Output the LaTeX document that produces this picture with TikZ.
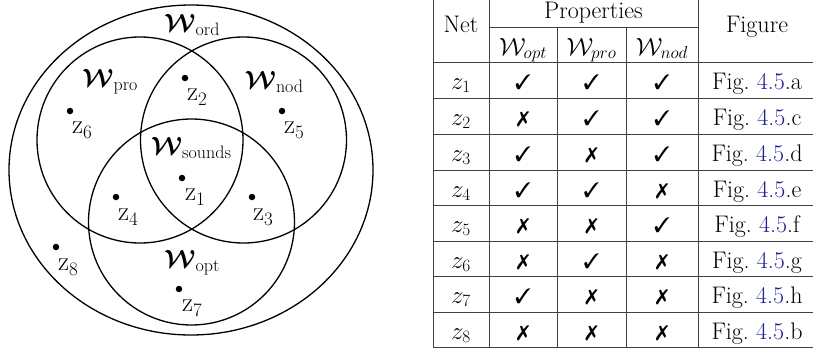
\documentclass[tikz,border=0pt]{standalone}
\usepackage{amsmath,amssymb,bm,pifont}
\usetikzlibrary{shapes.geometric}
\definecolor{linkblue}{RGB}{30,30,150}
\newcommand{\ck}{\ding{51}}
\newcommand{\xx}{\ding{55}}
\newcommand{\fg}[1]{Fig.~\textcolor{linkblue}{4.5}.#1}
\newcommand{\wl}[1]{{\fontsize{25}{28}\selectfont$\boldsymbol{\mathcal{W}}$}\raisebox{-4pt}{\fontsize{18}{20}\selectfont #1}}
\newcommand{\zl}[1]{{\fontsize{27}{30}\selectfont z}\raisebox{-5pt}{\fontsize{19}{20}\selectfont #1}}
\begin{document}
\begin{tikzpicture}[x=1pt,y=-1pt,
  venn/.style={draw,line width=1.3pt,inner sep=0pt,outer sep=0pt},
  dotpt/.style={circle,fill,inner sep=0pt,minimum size=6.5pt},
  vlab/.style={inner sep=0pt},
  tline/.style={line width=0.8pt,draw=black!75},
  tx/.style={font=\fontsize{24}{28}\selectfont,inner sep=0pt,anchor=base},
  mk/.style={font=\fontsize{21}{26}\selectfont,inner sep=0pt,anchor=base}]
\useasboundingbox (0,0) rectangle (813,351);
% Venn diagram
\node[venn,ellipse,minimum width=364pt,minimum height=330pt] (ord) at (191,170) {};
\node[venn,circle,minimum size=206pt] (pro) at (140,140) {};
\node[venn,circle,minimum size=206pt] (nod) at (243.5,140) {};
\node[venn,circle,minimum size=206pt] (opt) at (191.5,222) {};
\node[vlab] (word) at (192,25) {\wl{ord}};
\node[vlab] (wpro) at (110,82) {\wl{pro}};
\node[vlab] (wnod) at (274,82) {\wl{nod}};
\node[vlab] (wsnd) at (191,148) {\wl{sounds}};
\node[vlab] (wopt) at (192,263) {\wl{opt}};
\node[dotpt] (d1) at (182,178) {}; \node[vlab] (l1) at (195,197) {\zl{1}};
\node[dotpt] (d2) at (185,78) {};  \node[vlab] (l2) at (197,97) {\zl{2}};
\node[dotpt] (d3) at (252,197) {}; \node[vlab] (l3) at (263,217) {\zl{3}};
\node[dotpt] (d4) at (116,197) {}; \node[vlab] (l4) at (128,217) {\zl{4}};
\node[dotpt] (d5) at (282,111) {}; \node[vlab] (l5) at (294,130) {\zl{5}};
\node[dotpt] (d6) at (70,111) {};  \node[vlab] (l6) at (82,130) {\zl{6}};
\node[dotpt] (d7) at (179,289) {}; \node[vlab] (l7) at (192,308) {\zl{7}};
\node[dotpt] (d8) at (56,247) {};  \node[vlab] (l8) at (68,267) {\zl{8}};
% Table lines
\draw[tline] (433,0) -- (433,347);
\draw[tline] (489,0) -- (489,347);
\draw[tline] (557,27) -- (557,347);
\draw[tline] (626,27) -- (626,347);
\draw[tline] (698,0) -- (698,347);
\draw[tline] (489,27) -- (698,27);
\foreach \yy in {62,98,134,170,205,241,276,312,347} \draw[tline] (433,\yy) -- (813,\yy);
% Header
\node[tx] (hnet) at (461,32) {Net};
\node[tx] (hprop) at (593.5,18.5) {Properties};
\node[tx] (hfig) at (757,32) {Figure};
\node[tx] (hopt) at (523,55) {$\mathcal{W}_{opt}$};
\node[tx] (hpro) at (591.5,55) {$\mathcal{W}_{pro}$};
\node[tx] (hnod) at (662,55) {$\mathcal{W}_{nod}$};
% Rows
\foreach \i/\yb/\a/\b/\c/\f in {1/89/\ck/\ck/\ck/a, 2/125/\xx/\ck/\ck/c, 3/161/\ck/\xx/\ck/d, 4/197/\ck/\ck/\xx/e, 5/232/\xx/\xx/\ck/f, 6/268/\xx/\ck/\xx/g, 7/303/\ck/\xx/\xx/h, 8/339/\xx/\xx/\xx/b}{
  \node[tx] (n\i) at (461,\yb) {$z_{\i}$};
  \node[mk] (a\i) at (523,\yb) {\a};
  \node[mk] (b\i) at (591.5,\yb) {\b};
  \node[mk] (c\i) at (662,\yb) {\c};
  \node[tx] (f\i) at (757,\yb) {\fg{\f}};
}
\end{tikzpicture}
\end{document}
